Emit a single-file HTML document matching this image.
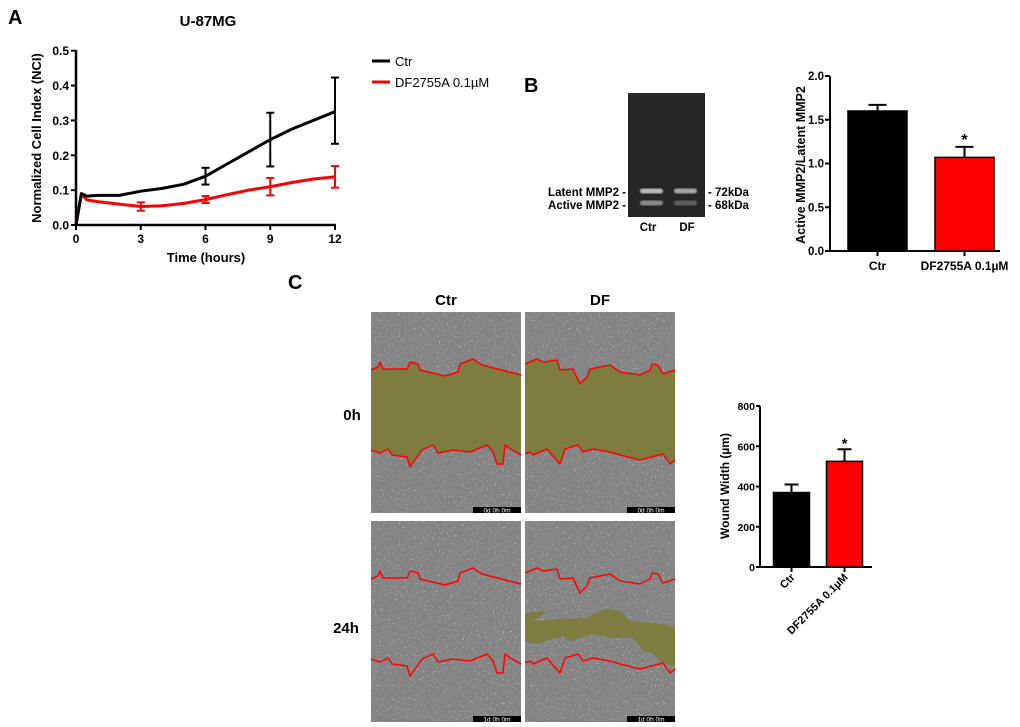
<!DOCTYPE html>
<html><head><meta charset="utf-8"><style>
html,body{margin:0;padding:0;background:#fff;}
svg{display:block;font-family:"Liberation Sans",Arial,sans-serif;}
text{font-weight:bold;}
</style></head><body>
<svg id="fig" width="1020" height="727" viewBox="0 0 1020 727" xmlns="http://www.w3.org/2000/svg">
<defs>
<filter id="noise" x="0" y="0" width="100%" height="100%">
<feTurbulence type="fractalNoise" baseFrequency="0.5" numOctaves="2" seed="3" result="t"/>
<feComponentTransfer in="t" result="n"><feFuncA type="discrete" tableValues="0 0 0 0 0.25 0.6"/></feComponentTransfer>
<feColorMatrix in="n" type="matrix" values="0 0 0 0 0.72 0 0 0 0 0.72 0 0 0 0 0.72 0 0 0 1 0" result="w"/>
<feMerge><feMergeNode in="SourceGraphic"/><feMergeNode in="w"/></feMerge>
</filter>
<filter id="blur"><feGaussianBlur stdDeviation="0.8"/></filter>
</defs>
<g id="panelA"></g>
<g id="panelB"></g>
<g id="panelC"></g>
</svg>
<script>
// ---- Panel A data
const timesA = [0,0.25,0.5,1,2,3,4,5,6,7,8,9,10,11,12];
const ctrA = [0,0.09,0.083,0.085,0.085,0.097,0.105,0.117,0.14,0.175,0.21,0.245,0.275,0.3,0.325];
const dfA = [0,0.09,0.072,0.067,0.06,0.053,0.055,0.062,0.073,0.087,0.1,0.11,0.122,0.132,0.138];
const errTimes = [3,6,9,12];
const ctrErr = [0,0.024,0.077,0.095];
const dfErr = [0.012,0.01,0.025,0.031];
const ctrErrMid = [0.097,0.14,0.245,0.328];
const dfErrMid = [0.053,0.073,0.11,0.138];
const xTicksA = [0,3,6,9,12];
const yTicksA = [0,0.1,0.2,0.3,0.4,0.5];
// ---- Panel B data
const catsB = ["Ctr","DF2755A 0.1µM"];
const valsB = [1.6,1.07];
const errB = [0.07,0.12];
const yTicksB = [0,0.5,1.0,1.5,2.0];
// ---- Panel C data
const catsC = ["Ctr","DF2755A 0.1µM"];
const valsC = [370,525];
const errC = [40,60];
const yTicksC = [0,200,400,600,800];

const NS="http://www.w3.org/2000/svg";
function mk(parent,tag,attrs,txt){const e=document.createElementNS(NS,tag);for(const k in attrs)e.setAttribute(k,attrs[k]);if(txt!==undefined)e.textContent=txt;parent.appendChild(e);return e;}

// ===== Panel A
const A=document.getElementById('panelA');
const ax=t=>76+t*(335-76)/12, ay=v=>225-v*(225-50.7)/0.5;
let e;
e=mk(A,'text',{x:8,y:24,'font-size':20},'A');

e=mk(A,'text',{x:208,y:26,'font-size':15,'text-anchor':'middle'},'U-87MG');

e=mk(A,'line',{x1:76,y1:50,x2:76,y2:226,stroke:'#000','stroke-width':2.5});

e=mk(A,'line',{x1:75,y1:225,x2:336,y2:225,stroke:'#000','stroke-width':2.5});

yTicksA.forEach(v=>{mk(A,'line',{x1:71,y1:ay(v),x2:76,y2:ay(v),stroke:'#000','stroke-width':2});
e=mk(A,'text',{x:69,y:ay(v)+4.5,'font-size':12,'text-anchor':'end'},v.toFixed(1));
});
xTicksA.forEach(v=>{mk(A,'line',{x1:ax(v),y1:225,x2:ax(v),y2:230,stroke:'#000','stroke-width':2});
e=mk(A,'text',{x:ax(v),y:243,'font-size':12,'text-anchor':'middle'},String(v));
});
e=mk(A,'text',{x:206,y:262,'font-size':13,'text-anchor':'middle'},'Time (hours)');

e=mk(A,'text',{x:0,y:0,'font-size':13,'text-anchor':'middle',transform:'translate(41,138) rotate(-90)'},'Normalized Cell Index (NCI)');

function series(vals,col,name){const d=timesA.map((t,i)=>(i?'L':'M')+ax(t).toFixed(1)+','+ay(vals[i]).toFixed(1)).join(' ');
const p=mk(A,'path',{d:d,fill:'none',stroke:col,'stroke-width':3,'stroke-linejoin':'round'});
}
series(dfA,'#f00','series-df2755a');
series(ctrA,'#000','series-ctr');
function ebars(mid,err,col,name){errTimes.forEach((t,i)=>{if(!err[i])return;const x=ax(t);
const g=mk(A,'g',{stroke:col,'stroke-width':2});
mk(g,'line',{x1:x,y1:ay(mid[i]-err[i]),x2:x,y2:ay(mid[i]+err[i])});
mk(g,'line',{x1:x-4,y1:ay(mid[i]-err[i]),x2:x+4,y2:ay(mid[i]-err[i])});
mk(g,'line',{x1:x-4,y1:ay(mid[i]+err[i]),x2:x+4,y2:ay(mid[i]+err[i])});});}
ebars(dfErrMid,dfErr,'#f00','error-bar-df');
ebars(ctrErrMid,ctrErr,'#000','error-bar-ctr');
e=mk(A,'line',{x1:372,y1:61,x2:390,y2:61,stroke:'#000','stroke-width':3});

e=mk(A,'text',{x:395,y:66,'font-size':13,style:'font-weight:normal'},'Ctr');

e=mk(A,'line',{x1:372,y1:82,x2:390,y2:82,stroke:'#f00','stroke-width':3});

e=mk(A,'text',{x:395,y:87,'font-size':13,style:'font-weight:normal'},'DF2755A 0.1µM');


// ===== Panel B
const B=document.getElementById('panelB');
e=mk(B,'text',{x:524,y:92,'font-size':20},'B');

e=mk(B,'rect',{x:628,y:93,width:77,height:124,fill:'#262626'});

[[640,191,663,0.8],[674,191,697,0.7],[640,203,663,0.55],[674,203,697,0.3]].forEach(b=>{
e=mk(B,'rect',{x:b[0],y:b[1]-2.5,width:b[2]-b[0],height:5,rx:2.5,fill:'#ddd',opacity:b[3],filter:'url(#blur)'});
});
[['Latent MMP2 -',626,196,'end'],['Active MMP2 -',626,209,'end'],['- 72kDa',708,196,'start'],['- 68kDa',708,209,'start'],['Ctr',648,231,'middle'],['DF',687,231,'middle']].forEach(l=>{
e=mk(B,'text',{x:l[1],y:l[2],'font-size':11.5,'text-anchor':l[3]},l[0]);
});
const bx0=830, by=v=>251-v*(251-76)/2.0;
e=mk(B,'line',{x1:bx0,y1:76,x2:bx0,y2:252,stroke:'#000','stroke-width':2});

e=mk(B,'line',{x1:bx0,y1:251,x2:1000,y2:251,stroke:'#000','stroke-width':2});

yTicksB.forEach(v=>{mk(B,'line',{x1:bx0-5,y1:by(v),x2:bx0,y2:by(v),stroke:'#000','stroke-width':2});
e=mk(B,'text',{x:bx0-6,y:by(v)+4,'font-size':11.5,'text-anchor':'end'},v.toFixed(1));
});
e=mk(B,'text',{x:0,y:0,'font-size':12.5,'text-anchor':'middle',transform:'translate(805,165) rotate(-90)'},'Active MMP2/Latent MMP2');

const bCenters=[877.5,964.5], bw=59;
catsB.forEach((c,i)=>{const cx=bCenters[i];
mk(B,'line',{x1:cx,y1:by(valsB[i]),x2:cx,y2:by(valsB[i]+errB[i]),stroke:'#000','stroke-width':2});
mk(B,'line',{x1:cx-9,y1:by(valsB[i]+errB[i]),x2:cx+9,y2:by(valsB[i]+errB[i]),stroke:'#000','stroke-width':2});
e=mk(B,'rect',{x:cx-bw/2,y:by(valsB[i]),width:bw,height:251-by(valsB[i]),fill:i?'#f00':'#000',stroke:'#000','stroke-width':1.5});

mk(B,'line',{x1:cx,y1:251,x2:cx,y2:256,stroke:'#000','stroke-width':2});
e=mk(B,'text',{x:cx,y:270,'font-size':12,'text-anchor':'middle'},c);
});
e=mk(B,'text',{x:bCenters[1],y:by(valsB[1]+errB[1])-2,'font-size':16,'text-anchor':'middle'},'*');


// ===== Panel C
const C=document.getElementById('panelC');
e=mk(C,'text',{x:288,y:289,'font-size':20},'C');

[['Ctr',446,305],['DF',600,305],['0h',352,420],['24h',346,633]].forEach(l=>{
e=mk(C,'text',{x:l[1],y:l[2],'font-size':15,'text-anchor':'middle'},l[0]);
});
const ctrTop=[[0,58],[7,55],[9,50],[12,57],[36,57],[39,50],[47,52],[49,58],[74,64],[87,60],[89,52],[102,47],[111,53],[150,63]];
const ctrBot=[[0,138],[9,141],[17,137],[21,143],[36,145],[39,155],[44,148],[51,138],[62,133],[67,141],[82,138],[99,140],[116,133],[122,140],[126,152],[132,152],[134,133],[141,138],[150,143]];
const dfTop=[[0,52],[12,47],[18,50],[32,48],[35,58],[48,57],[55,72],[62,65],[65,57],[85,53],[95,60],[115,63],[125,58],[127,52],[133,53],[138,62],[150,58]];
const dfBot=[[0,142],[5,140],[8,143],[22,137],[27,143],[35,152],[40,137],[53,133],[58,140],[68,137],[85,140],[95,143],[115,148],[138,142],[145,152],[150,148]];
const patch=[[0,92],[23,90],[8,100],[38,98],[62,97],[68,93],[82,88],[95,90],[105,100],[138,103],[150,107],[150,145],[138,143],[128,133],[118,130],[108,117],[88,117],[68,113],[45,120],[38,115],[12,123],[0,120]];
const pts=a=>a.map(p=>p.join(',')).join(' ');
function micro(x,y,top,bot,fill,stamp,extra,name){
const g=mk(C,'g',{transform:`translate(${x},${y})`});
mk(g,'rect',{x:0,y:0,width:150,height:201,fill:'#848484',filter:'url(#noise)'});
if(fill) mk(g,'polygon',{points:pts(top)+' '+pts(bot.slice().reverse()),fill:'#7f7c3f','stroke-linejoin':'round'});
if(extra) mk(g,'polygon',{points:pts(extra),fill:'#7f7c3f'});
mk(g,'polyline',{points:pts(top),fill:'none',stroke:'#f00','stroke-width':1.5,'stroke-linejoin':'round'});
mk(g,'polyline',{points:pts(bot),fill:'none',stroke:'#f00','stroke-width':1.5,'stroke-linejoin':'round'});
mk(g,'rect',{x:102,y:195,width:48,height:6,fill:'#000'});
mk(g,'text',{x:126,y:200.5,'font-size':6.5,'text-anchor':'middle',fill:'#fff',style:'font-weight:normal'},stamp);}
micro(371,312,ctrTop,ctrBot,true,'0d 0h 0m',null,'image-ctr-0h');
micro(525,312,dfTop,dfBot,true,'0d 0h 0m',null,'image-df-0h');
micro(371,521,ctrTop,ctrBot,false,'1d 0h 0m',null,'image-ctr-24h');
micro(525,521,dfTop,dfBot,false,'1d 0h 0m',patch,'image-df-24h');
// wound bar chart
const cx0=760, cy=v=>567-v*(567-406)/800;
e=mk(C,'line',{x1:cx0,y1:406,x2:cx0,y2:568,stroke:'#000','stroke-width':2});

e=mk(C,'line',{x1:cx0,y1:567,x2:872,y2:567,stroke:'#000','stroke-width':2});

yTicksC.forEach(v=>{mk(C,'line',{x1:cx0-4,y1:cy(v),x2:cx0,y2:cy(v),stroke:'#000','stroke-width':2});
e=mk(C,'text',{x:cx0-5,y:cy(v)+4,'font-size':10.5,'text-anchor':'end'},String(v));
});
e=mk(C,'text',{x:0,y:0,'font-size':12,'text-anchor':'middle',transform:'translate(729,486) rotate(-90)'},'Wound Width (µm)');

const cCenters=[791.5,844.5], cw=36;
catsC.forEach((c,i)=>{const cx=cCenters[i];
mk(C,'line',{x1:cx,y1:cy(valsC[i]),x2:cx,y2:cy(valsC[i]+errC[i]),stroke:'#000','stroke-width':2});
mk(C,'line',{x1:cx-7,y1:cy(valsC[i]+errC[i]),x2:cx+7,y2:cy(valsC[i]+errC[i]),stroke:'#000','stroke-width':2});
e=mk(C,'rect',{x:cx-cw/2,y:cy(valsC[i]),width:cw,height:567-cy(valsC[i]),fill:i?'#f00':'#000',stroke:'#000','stroke-width':1.5});

mk(C,'line',{x1:cx,y1:567,x2:cx,y2:572,stroke:'#000','stroke-width':2});
e=mk(C,'text',{x:0,y:0,'font-size':11,'text-anchor':'end',transform:`translate(${cx+4},${578}) rotate(-45)`},c);
});
e=mk(C,'text',{x:cCenters[1],y:cy(valsC[1]+errC[1])-1,'font-size':15,'text-anchor':'middle'},'*');

</script>
</body></html>
